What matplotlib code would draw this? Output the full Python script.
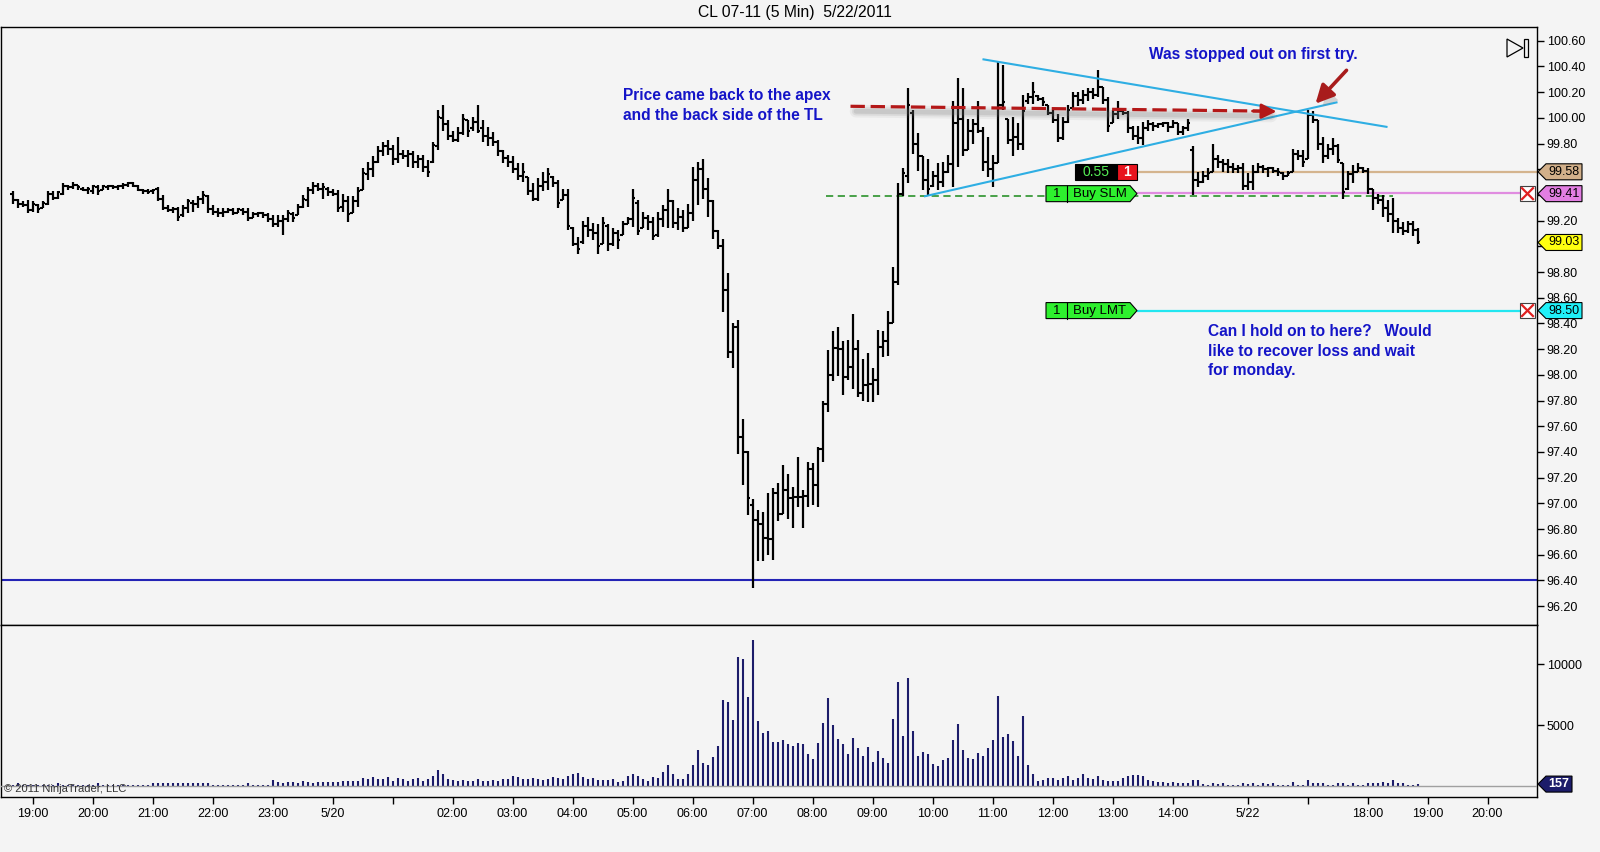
import matplotlib
matplotlib.use("Agg")
import matplotlib.pyplot as plt
import matplotlib.patheffects as pe
from matplotlib.patches import Polygon, Rectangle
from matplotlib.transforms import IdentityTransform
import numpy as np

# ---- data: 5 min bars of CL 07-11, 18:40 on 5/19 to 18:50 on 5/22 (bar index) ----
opens = [
    99.41, 99.36, 99.33, 99.32, 99.28, 99.32, 99.30, 99.33, 99.41, 99.38,
    99.41, 99.47, 99.46, 99.48, 99.45, 99.44, 99.43, 99.46, 99.44, 99.46,
    99.47, 99.46, 99.47, 99.48, 99.49, 99.47, 99.44, 99.43, 99.43, 99.45,
    99.37, 99.30, 99.28, 99.29, 99.24, 99.30, 99.34, 99.33, 99.37, 99.39,
    99.29, 99.27, 99.26, 99.27, 99.28, 99.26, 99.28, 99.27, 99.22, 99.25,
    99.26, 99.24, 99.21, 99.17, 99.20, 99.21, 99.25, 99.24, 99.31, 99.36,
    99.44, 99.47, 99.45, 99.45, 99.42, 99.41, 99.31, 99.35, 99.26, 99.35,
    99.44, 99.56, 99.60, 99.66, 99.74, 99.78, 99.76, 99.68, 99.72, 99.70,
    99.72, 99.66, 99.68, 99.62, 99.66, 99.78, 100.00, 99.95, 99.86, 99.83,
    99.88, 99.98, 99.92, 99.97, 99.92, 99.86, 99.84, 99.81, 99.74, 99.69,
    99.66, 99.60, 99.55, 99.54, 99.43, 99.37, 99.47, 99.50, 99.54, 99.49,
    99.36, 99.40, 99.14, 99.02, 99.03, 99.16, 99.13, 99.10, 99.02, 99.16,
    99.02, 99.10, 99.09, 99.17, 99.21, 99.34, 99.14, 99.22, 99.19, 99.09,
    99.21, 99.28, 99.35, 99.18, 99.23, 99.14, 99.26, 99.52, 99.60, 99.45,
    99.35, 99.12, 99.00, 98.66, 98.18, 98.37, 97.52, 97.40, 96.99, 96.87,
    96.84, 96.73, 96.72, 97.08, 96.92, 97.10, 97.04, 97.05, 97.05, 97.06,
    97.27, 97.14, 97.42, 97.77, 98.00, 98.21, 98.20, 97.98, 98.06, 98.20,
    97.86, 97.92, 97.93, 97.96, 98.22, 98.26, 98.40, 98.72, 99.41, 99.55,
    100.04, 99.80, 99.70, 99.52, 99.47, 99.55, 99.50, 99.58, 99.64, 99.96,
    99.99, 99.75, 99.90, 99.95, 99.90, 99.66, 99.60, 99.65, 100.10, 99.99,
    99.83, 99.85, 99.80, 100.13, 100.16, 100.17, 100.15, 100.10, 100.04, 99.98,
    99.84, 99.97, 100.08, 100.17, 100.14, 100.18, 100.20, 100.18, 100.24, 100.14,
    99.96, 100.03, 100.05, 100.04, 99.92, 99.86, 99.84, 99.92, 99.95, 99.94,
    99.95, 99.96, 99.93, 99.96, 99.89, 99.92, 99.75, 99.52, 99.50, 99.55,
    99.58, 99.68, 99.66, 99.64, 99.62, 99.60, 99.61, 99.47, 99.50, 99.58,
    99.62, 99.60, 99.61, 99.59, 99.57, 99.55, 99.58, 99.72, 99.70, 99.68,
    100.02, 99.98, 99.80, 99.70, 99.76, 99.78, 99.65, 99.45, 99.56, 99.58,
    99.61, 99.59, 99.45, 99.38, 99.36, 99.30, 99.25, 99.20, 99.14, 99.12,
    99.17, 99.13,
]
highs = [
    99.43, 99.37, 99.35, 99.36, 99.35, 99.33, 99.35, 99.43, 99.43, 99.43,
    99.49, 99.48, 99.50, 99.48, 99.46, 99.46, 99.48, 99.48, 99.48, 99.48,
    99.48, 99.48, 99.49, 99.50, 99.50, 99.48, 99.45, 99.45, 99.45, 99.46,
    99.40, 99.32, 99.31, 99.31, 99.32, 99.37, 99.36, 99.39, 99.43, 99.40,
    99.32, 99.30, 99.30, 99.30, 99.30, 99.30, 99.30, 99.30, 99.27, 99.27,
    99.27, 99.26, 99.24, 99.24, 99.24, 99.28, 99.27, 99.33, 99.40, 99.46,
    99.50, 99.49, 99.49, 99.46, 99.45, 99.44, 99.41, 99.39, 99.39, 99.46,
    99.61, 99.66, 99.70, 99.78, 99.81, 99.83, 99.79, 99.85, 99.75, 99.75,
    99.74, 99.71, 99.71, 99.67, 99.81, 100.06, 100.10, 99.98, 99.90, 99.93,
    100.03, 99.98, 100.01, 100.10, 99.98, 99.93, 99.89, 99.83, 99.75, 99.71,
    99.70, 99.65, 99.65, 99.54, 99.49, 99.53, 99.58, 99.61, 99.55, 99.52,
    99.45, 99.45, 99.15, 99.07, 99.20, 99.23, 99.18, 99.17, 99.23, 99.17,
    99.14, 99.13, 99.20, 99.23, 99.45, 99.36, 99.27, 99.24, 99.23, 99.27,
    99.32, 99.45, 99.36, 99.30, 99.28, 99.33, 99.62, 99.66, 99.68, 99.53,
    99.36, 99.13, 99.06, 98.79, 98.40, 98.43, 97.66, 97.41, 97.03, 96.95,
    96.93, 97.08, 97.12, 97.16, 97.30, 97.23, 97.13, 97.36, 97.10, 97.32,
    97.31, 97.44, 97.80, 98.19, 98.34, 98.37, 98.26, 98.27, 98.47, 98.27,
    98.12, 98.17, 98.05, 98.35, 98.34, 98.50, 98.84, 99.49, 99.61, 100.23,
    100.06, 99.88, 99.70, 99.68, 99.59, 99.65, 99.66, 99.71, 100.13, 100.31,
    100.23, 99.99, 99.99, 100.13, 99.93, 99.85, 99.71, 100.44, 100.41, 99.99,
    100.01, 99.96, 100.18, 100.19, 100.28, 100.18, 100.16, 100.10, 100.06, 100.03,
    100.01, 100.10, 100.20, 100.20, 100.22, 100.23, 100.23, 100.37, 100.24, 100.16,
    100.06, 100.13, 100.07, 100.05, 99.94, 99.94, 99.97, 99.98, 99.97, 99.96,
    99.97, 99.97, 99.98, 99.96, 99.94, 99.99, 99.78, 99.58, 99.59, 99.61,
    99.80, 99.71, 99.68, 99.68, 99.65, 99.63, 99.65, 99.57, 99.63, 99.65,
    99.63, 99.62, 99.62, 99.61, 99.58, 99.59, 99.76, 99.75, 99.75, 100.06,
    100.05, 99.98, 99.85, 99.80, 99.84, 99.80, 99.65, 99.59, 99.63, 99.65,
    99.62, 99.61, 99.45, 99.41, 99.40, 99.36, 99.38, 99.22, 99.19, 99.20,
    99.20, 99.14,
]
lows = [
    99.33, 99.30, 99.31, 99.26, 99.27, 99.26, 99.30, 99.32, 99.36, 99.37,
    99.40, 99.44, 99.45, 99.44, 99.43, 99.41, 99.41, 99.40, 99.44, 99.44,
    99.45, 99.44, 99.45, 99.46, 99.46, 99.43, 99.41, 99.41, 99.41, 99.35,
    99.28, 99.27, 99.26, 99.20, 99.23, 99.26, 99.27, 99.30, 99.33, 99.26,
    99.24, 99.23, 99.23, 99.26, 99.24, 99.26, 99.24, 99.20, 99.22, 99.23,
    99.22, 99.19, 99.15, 99.15, 99.09, 99.19, 99.19, 99.24, 99.30, 99.31,
    99.41, 99.43, 99.37, 99.39, 99.39, 99.27, 99.27, 99.19, 99.26, 99.31,
    99.44, 99.52, 99.54, 99.65, 99.70, 99.71, 99.63, 99.65, 99.68, 99.62,
    99.61, 99.61, 99.58, 99.54, 99.65, 99.75, 99.90, 99.83, 99.81, 99.81,
    99.87, 99.85, 99.90, 99.88, 99.81, 99.78, 99.78, 99.70, 99.65, 99.62,
    99.57, 99.52, 99.50, 99.40, 99.35, 99.35, 99.43, 99.44, 99.46, 99.30,
    99.36, 99.13, 99.00, 98.94, 99.02, 99.07, 99.05, 98.94, 99.02, 98.96,
    99.00, 98.98, 99.09, 99.17, 99.15, 99.09, 99.14, 99.13, 99.05, 99.07,
    99.15, 99.14, 99.14, 99.13, 99.11, 99.14, 99.20, 99.32, 99.37, 99.23,
    99.06, 98.98, 98.49, 98.13, 98.05, 97.38, 97.14, 96.91, 96.34, 96.55,
    96.55, 96.60, 96.56, 96.86, 96.92, 96.88, 96.81, 96.97, 96.81, 96.97,
    96.99, 96.97, 97.32, 97.71, 97.95, 97.99, 97.84, 97.96, 97.89, 97.83,
    97.80, 97.79, 97.79, 97.84, 98.14, 98.15, 98.40, 98.70, 99.39, 99.49,
    99.72, 99.59, 99.44, 99.40, 99.46, 99.44, 99.46, 99.57, 99.46, 99.62,
    99.70, 99.75, 99.80, 99.88, 99.59, 99.54, 99.46, 99.65, 100.06, 99.80,
    99.70, 99.75, 99.75, 100.11, 100.11, 100.13, 100.09, 100.02, 99.96, 99.81,
    99.83, 99.96, 100.07, 100.09, 100.11, 100.13, 100.15, 100.16, 100.11, 99.89,
    99.96, 99.99, 100.02, 99.88, 99.83, 99.80, 99.79, 99.90, 99.90, 99.92,
    99.93, 99.89, 99.92, 99.87, 99.87, 99.90, 99.40, 99.46, 99.49, 99.52,
    99.58, 99.61, 99.58, 99.57, 99.57, 99.57, 99.44, 99.44, 99.44, 99.57,
    99.57, 99.54, 99.57, 99.55, 99.52, 99.55, 99.58, 99.67, 99.62, 99.68,
    99.96, 99.75, 99.65, 99.68, 99.71, 99.65, 99.37, 99.44, 99.49, 99.58,
    99.57, 99.41, 99.28, 99.33, 99.23, 99.19, 99.10, 99.10, 99.09, 99.10,
    99.08, 99.02,
]
closes = [
    99.36, 99.33, 99.32, 99.28, 99.33, 99.29, 99.34, 99.41, 99.38, 99.42,
    99.47, 99.46, 99.48, 99.46, 99.44, 99.45, 99.47, 99.43, 99.47, 99.47,
    99.46, 99.47, 99.48, 99.49, 99.47, 99.44, 99.43, 99.42, 99.44, 99.37,
    99.30, 99.28, 99.29, 99.23, 99.30, 99.35, 99.33, 99.37, 99.40, 99.29,
    99.27, 99.26, 99.27, 99.28, 99.26, 99.29, 99.27, 99.22, 99.25, 99.26,
    99.24, 99.21, 99.17, 99.20, 99.21, 99.26, 99.22, 99.31, 99.37, 99.44,
    99.47, 99.45, 99.46, 99.42, 99.41, 99.30, 99.35, 99.25, 99.35, 99.43,
    99.57, 99.60, 99.66, 99.74, 99.78, 99.76, 99.68, 99.72, 99.70, 99.72,
    99.66, 99.68, 99.62, 99.58, 99.79, 100.01, 99.95, 99.86, 99.83, 99.88,
    99.99, 99.90, 99.97, 99.90, 99.86, 99.84, 99.81, 99.74, 99.69, 99.66,
    99.60, 99.55, 99.58, 99.43, 99.37, 99.47, 99.50, 99.56, 99.49, 99.34,
    99.40, 99.16, 99.02, 98.98, 99.16, 99.13, 99.10, 99.00, 99.18, 99.02,
    99.10, 99.05, 99.17, 99.21, 99.38, 99.12, 99.22, 99.19, 99.08, 99.21,
    99.28, 99.35, 99.18, 99.23, 99.14, 99.26, 99.52, 99.60, 99.45, 99.35,
    99.12, 99.00, 98.66, 98.18, 98.37, 97.52, 97.40, 97.04, 96.87, 96.84,
    96.73, 96.72, 97.08, 96.92, 97.10, 97.04, 97.05, 97.05, 97.06, 97.27,
    97.14, 97.42, 97.77, 98.00, 98.21, 98.20, 97.98, 98.06, 98.20, 97.86,
    97.92, 97.93, 97.96, 98.22, 98.26, 98.40, 98.72, 99.41, 99.57, 100.10,
    99.80, 99.70, 99.52, 99.45, 99.55, 99.50, 99.58, 99.64, 99.96, 99.99,
    99.75, 99.90, 99.95, 99.90, 99.66, 99.60, 99.65, 100.10, 100.12, 99.83,
    99.85, 99.80, 100.05, 100.16, 100.20, 100.15, 100.12, 100.04, 99.98, 99.84,
    99.97, 100.06, 100.17, 100.14, 100.18, 100.20, 100.18, 100.24, 100.14, 99.94,
    100.03, 100.05, 100.04, 99.92, 99.86, 99.84, 99.92, 99.95, 99.94, 99.95,
    99.96, 99.93, 99.96, 99.89, 99.92, 99.96, 99.52, 99.50, 99.55, 99.57,
    99.68, 99.66, 99.64, 99.62, 99.60, 99.61, 99.47, 99.50, 99.58, 99.62,
    99.60, 99.61, 99.59, 99.58, 99.55, 99.57, 99.72, 99.70, 99.66, 100.02,
    99.98, 99.80, 99.70, 99.76, 99.78, 99.67, 99.42, 99.56, 99.58, 99.61,
    99.59, 99.45, 99.38, 99.36, 99.30, 99.25, 99.20, 99.14, 99.12, 99.17,
    99.13, 99.03,
]
volumes = [
    90, 240, 60, 110, 80, 70, 100, 120, 80, 240,
    100, 80, 70, 90, 120, 70, 60, 240, 120, 80,
    70, 100, 70, 60, 90, 110, 70, 70, 240, 260,
    240, 250, 240, 240, 250, 240, 240, 260, 240, 230,
    80, 60, 90, 70, 60, 90, 80, 240, 90, 70,
    60, 90, 510, 300, 280, 300, 320, 280, 400, 300,
    280, 300, 320, 300, 350, 300, 380, 450, 450, 400,
    640, 560, 700, 600, 560, 700, 420, 640, 600, 400,
    560, 640, 420, 560, 800, 1320, 1000, 560, 480, 420,
    500, 420, 380, 560, 420, 380, 500, 420, 600, 560,
    850, 700, 600, 560, 640, 560, 500, 600, 720, 640,
    560, 800, 1000, 1100, 720, 600, 640, 500, 510, 510,
    565, 350, 400, 780, 970, 780, 565, 375, 725, 645,
    1130, 1695, 970, 565, 565, 970, 1695, 2985, 1855, 1695,
    2340, 3310, 7020, 6860, 5405, 10570, 10410, 7260, 11945, 5325,
    4360, 4520, 3630, 3630, 3790, 3470, 3255, 3550, 3470, 2665,
    2180, 3550, 5165, 7180, 5005, 3875, 3470, 2665, 3955, 3150,
    2450, 3230, 1935, 2905, 2260, 1855, 5490, 8555, 4115, 8875,
    4520, 2420, 2825, 2665, 1775, 1615, 2100, 2260, 3790, 5085,
    2985, 2260, 2180, 2745, 2500, 3150, 3790, 7345, 4035, 4275,
    3710, 2500, 5730, 1695, 970, 400, 485, 645, 640, 510,
    640, 780, 500, 640, 995, 640, 600, 780, 500, 400,
    400, 450, 640, 780, 920, 940, 780, 500, 400, 350,
    300, 240, 300, 240, 240, 240, 510, 510, 150, 80,
    240, 150, 240, 80, 60, 100, 240, 200, 240, 100,
    240, 200, 240, 60, 80, 100, 300, 80, 100, 510,
    240, 240, 240, 80, 100, 240, 240, 100, 240, 80,
    100, 240, 240, 240, 300, 240, 510, 240, 240, 100,
    80, 157,
]

tick_bars = [4, 16, 28, 40, 52, 64, 76, 88, 100, 112, 124, 136, 148, 160,
             172, 184, 196, 208, 220, 232, 247, 259, 271, 283, 295]
tick_labels = ['19:00', '20:00', '21:00', '22:00', '23:00', '5/20', '', '02:00',
               '03:00', '04:00', '05:00', '06:00', '07:00', '08:00', '09:00',
               '10:00', '11:00', '12:00', '13:00', '14:00', '5/22', '', '18:00',
               '19:00', '20:00']

price_ticks = [96.2, 96.4, 96.6, 96.8, 97.0, 97.2, 97.4, 97.6, 97.8, 98.0, 98.2,
               98.4, 98.6, 98.8, 99.0, 99.2, 99.4, 99.6, 99.8, 100.0, 100.2,
               100.4, 100.6]
# labels sitting under the price tags on the right axis
hidden_ticks = [99.0, 99.4, 99.6]

plt.rcParams['font.family'] = ['Liberation Sans', 'DejaVu Sans']

W, H = 1600, 852
BG = '#f4f4f4'
fig = plt.figure(figsize=(16, 8.52), dpi=100, facecolor=BG)


def fx(px):
    return px / W


def fy(py):
    return 1 - py / H


ax = fig.add_axes([fx(1), fy(625), fx(1537) - fx(1), fy(27) - fy(625)], facecolor=BG)
axv = fig.add_axes([fx(1), fy(797), fx(1537) - fx(1), fy(625) - fy(797)],
                   facecolor=BG, sharex=ax)

k = np.arange(len(closes))

# price bars
ax.vlines(k, lows, highs, color='black', lw=1.6, zorder=3)
ax.hlines(opens, k - 0.55, k, color='black', lw=1.5, zorder=3)
ax.hlines(closes, k, k + 0.55, color='black', lw=1.5, zorder=3)

ax.set_xlim(-2.3, 304.9)
ax.set_ylim(96.053, 100.707)
ax.yaxis.tick_right()
ax.set_yticks(price_ticks)
ax.set_yticklabels(['' if p in hidden_ticks else '%.2f' % p for p in price_ticks])
ax.tick_params(axis='y', length=5, width=1, pad=2, labelsize=9, colors='black')
ax.tick_params(axis='x', bottom=False, labelbottom=False)
for s in ax.spines.values():
    s.set_color('black')
    s.set_linewidth(1)

# volume
axv.vlines(k, 0, volumes, color='#1c1c6a', lw=1.5, zorder=3)
axv.axhline(0, color='#a0a0a0', lw=1, zorder=4)
axv.set_ylim(-902, 13202)
axv.yaxis.tick_right()
axv.set_yticks([5000, 10000])
axv.tick_params(axis='y', length=5, width=1, pad=2, labelsize=9)
axv.set_xticks(tick_bars)
axv.set_xticklabels(tick_labels)
axv.tick_params(axis='x', length=5, width=1, pad=3, labelsize=9, direction='out')
for s in axv.spines.values():
    s.set_color('black')
    s.set_linewidth(1)

# drawing objects
ax.axhline(96.40, color='#2323b5', lw=1.5, zorder=2)
ax.plot([194.2, 274.8], [100.455, 99.93], color='#2eaee3', lw=1.5, zorder=4)
ax.plot([182.5, 264.8], [99.39, 100.12], color='#2eaee3', lw=1.5, zorder=4)

ax.hlines(99.58, 224.9, 304.9, color='#d4b48e', lw=1.6, zorder=2)
ax.hlines(99.39, 162.7, 276, color='#3a9a3a', lw=1.3, linestyles=(0, (4, 2.5)), zorder=2)
ax.hlines(99.415, 224.9, 301.4, color='#e08ce0', lw=1.6, zorder=2)
ax.hlines(98.50, 224.9, 301.4, color='#22e6f0', lw=1.6, zorder=2)

# soft shadow under the dashed arrow
for lw_s, a_s in [(9, 0.08), (6, 0.12), (3.5, 0.16)]:
    ax.plot([168.5, 251.5], [100.09, 100.053], color='#707070', lw=lw_s, alpha=a_s,
            solid_capstyle='round', zorder=4,
            path_effects=[pe.withStroke(linewidth=0, foreground='none')],
            transform=ax.transData + matplotlib.transforms.ScaledTranslation(1 / 100, -5 / 100, fig.dpi_scale_trans))
ax.plot([167.6, 249.5], [100.09, 100.053], color='#b41818', lw=2.3,
        linestyle=(0, (4.5, 1.8)), zorder=5)
ax.annotate('', xy=(252.8, 100.05), xytext=(248.0, 100.053),
            arrowprops=dict(arrowstyle='-|>,head_length=0.9,head_width=0.45',
                            color='#b41818', lw=2.0, shrinkA=0, shrinkB=0), zorder=5)
arr = ax.annotate('', xy=(260.6, 100.11), xytext=(266.8, 100.37),
                  arrowprops=dict(arrowstyle='-|>,head_length=1.1,head_width=0.55',
                                  color='#a81c1c', lw=2.6, shrinkA=0, shrinkB=0), zorder=6)
arr.arrow_patch.set_path_effects([pe.SimplePatchShadow(offset=(3, -4), shadow_rgbFace='#808080',
                                                       alpha=0.3), pe.Normal()])

blue = '#1414c8'
ax.text(122.1, 100.172, 'Price came back to the apex', color=blue, fontsize=11.2,
        fontweight='bold', va='center', ha='left')
ax.text(122.1, 100.02, 'and the back side of the TL', color=blue, fontsize=11.2,
        fontweight='bold', va='center', ha='left')
ax.text(227.3, 100.49, 'Was stopped out on first try.', color=blue, fontsize=11.2,
        fontweight='bold', va='center', ha='left')
ax.text(239.1, 98.34, 'Can I hold on to here?   Would', color=blue, fontsize=11.2,
        fontweight='bold', va='center', ha='left')
ax.text(239.1, 98.185, 'like to recover loss and wait', color=blue, fontsize=11.2,
        fontweight='bold', va='center', ha='left')
ax.text(239.1, 98.035, 'for monday.', color=blue, fontsize=11.2,
        fontweight='bold', va='center', ha='left')

fig.canvas.draw()
ID = IdentityTransform()


def px(a, x, y):
    return a.transData.transform((x, y))


def poly(pts, fc, ec='black', lw=0.8, z=6):
    fig.add_artist(Polygon(pts, closed=True, fc=fc, ec=ec, lw=lw, transform=ID, zorder=z))


def ftext(x, y, s, **kw):
    fig.text(x / W, y / H, s, ha='center', va='center', zorder=7, **kw)


def axis_tag(a, value, fc, tc, label, width=45, bold=False):
    xr = a.transAxes.transform((1, 0))[0]
    y = a.transData.transform((0, value))[1]
    h = 8
    poly([(xr + 1, y), (xr + 9, y + h), (xr + width, y + h), (xr + width, y - h),
          (xr + 9, y - h)], fc)
    ftext(xr + 9 + (width - 9) / 2, y, label, color=tc, fontsize=9,
          fontweight='bold' if bold else 'normal')


def order_tag(value, label):
    x0 = px(ax, 206.7, value)[0]
    x1 = px(ax, 210.9, value)[0]
    x2 = px(ax, 223.5, value)[0]
    x3 = px(ax, 224.9, value)[0]
    y = px(ax, 0, value)[1]
    h = 8
    poly([(x0, y - h), (x0, y + h), (x2, y + h), (x3, y), (x2, y - h)], '#2ef02e')
    fig.add_artist(plt.Line2D([x1, x1], [y - h, y + h], color='black', lw=0.8,
                              transform=ID, zorder=7))
    ftext((x0 + x1) / 2, y, '1', color='black', fontsize=9.5)
    ftext((x1 + x2) / 2 + 1, y, label, color='black', fontsize=9.5)


def x_box(value):
    xr = ax.transAxes.transform((1, 0))[0]
    y = px(ax, 0, value)[1]
    x0, x1 = xr - 17, xr - 2
    fig.add_artist(Rectangle((x0, y - 7.5), 15, 15, fc='white', ec='#404040', lw=0.8,
                             transform=ID, zorder=6))
    fig.add_artist(plt.Line2D([x0 + 2, x1 - 2], [y - 5.5, y + 5.5], color='#e02020',
                              lw=1.6, transform=ID, zorder=7))
    fig.add_artist(plt.Line2D([x0 + 2, x1 - 2], [y + 5.5, y - 5.5], color='#e02020',
                              lw=1.6, transform=ID, zorder=7))


# position box: 0.55 | 1
yb = px(ax, 0, 99.58)[1]
xa = px(ax, 212.5, 99.58)[0]
xb = px(ax, 220.9, 99.58)[0]
xc = px(ax, 224.9, 99.58)[0]
fig.add_artist(Rectangle((xa, yb - 8), xb - xa, 16, fc='black', ec='black', lw=0.8,
                         transform=ID, zorder=6))
fig.add_artist(Rectangle((xb, yb - 8), xc - xb, 16, fc='#e8141e', ec='black', lw=0.8,
                         transform=ID, zorder=6))
ftext((xa + xb) / 2, yb, '0.55', color='#55ee55', fontsize=10)
ftext((xb + xc) / 2, yb, '1', color='white', fontsize=10, fontweight='bold')

order_tag(99.41, 'Buy SLM')
order_tag(98.50, 'Buy LMT')
x_box(99.41)
x_box(98.50)

axis_tag(ax, 99.58, '#d2b08a', 'black', '99.58')
axis_tag(ax, 99.41, '#e27ee2', 'black', '99.41')
axis_tag(ax, 99.03, '#ffff10', 'black', '99.03')
axis_tag(ax, 98.50, '#20f0f8', 'black', '98.50')
axis_tag(axv, 157, '#1c1c6a', 'white', '157', width=35, bold=True)

# scroll-to-end icon
xr = ax.transAxes.transform((1, 0))[0]
poly([(xr - 30, H - 39), (xr - 30, H - 57), (xr - 14, H - 48)], 'none', ec='black', lw=0.9)
fig.add_artist(Rectangle((xr - 13, H - 57), 3.5, 18, fc='none', ec='black', lw=0.9,
                         transform=ID, zorder=6))

fig.text(795 / W, fy(13), 'CL 07-11 (5 Min)  5/22/2011', ha='center', va='center',
         fontsize=11.3, color='black')
fig.text(4 / W, fy(789), '\u00a9 2011 NinjaTrader, LLC', ha='left', va='center',
         fontsize=8, color='#333333', zorder=7)

fig.savefig('out.png', dpi=100, facecolor=BG)
